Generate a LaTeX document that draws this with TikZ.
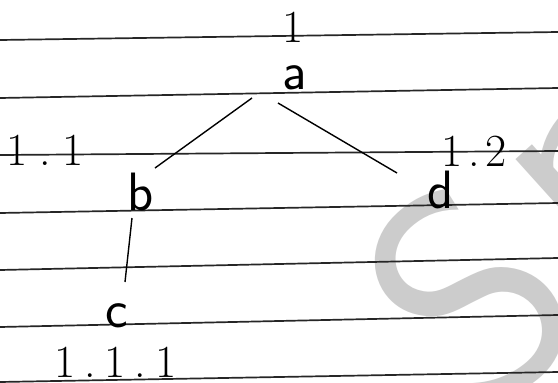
\documentclass[tikz,border=0pt]{standalone}
\usepackage{fontspec}
\newcommand{\sepdot}[1]{\kern#1.\kern#1}
\begin{document}
\begin{tikzpicture}[x=1pt,y=-1pt,
  rule/.style={draw=black!85,line width=1.7pt},
  hand/.style={font=\fontsize{54}{56}\selectfont\sffamily, inner sep=0pt},
  lab/.style={font=\fontsize{46}{48}\selectfont\rmfamily, inner sep=0pt},
  wmark/.style={text=black!20, font=\fontsize{300}{300}\selectfont\sffamily, rotate=42, inner sep=0pt},
  edge/.style={draw=black, line width=1.4pt}]
\useasboundingbox (0,0) rectangle (558,383);
\fill[white] (0,0) rectangle (558,383);
% watermark
\begin{scope}
\clip (0,0) rectangle (558,383);
\node[wmark] (wmS) at (470,295) {S};
\node[wmark] (wmP) at (615,195) {p};
\end{scope}
% ruled lines
\draw[rule] (0,40) -- (558,32);
\draw[rule] (0,98) -- (558,88);
\draw[rule] (0,155) -- (558,151);
\draw[rule] (0,213) -- (558,203);
\draw[rule] (0,270) -- (558,258);
\draw[rule] (0,327) -- (558,315);
\draw[rule] (0,382) -- (558,372);
% nodes
\node[lab] (l1) at (293,27) {1};
\node[hand] (a) at (295,78) {a};
\node[lab, anchor=west] (l11) at (6,150) {1\sepdot{12pt}1};
\node[lab, anchor=west] (l12) at (441,151) {1\sepdot{6pt}2};
\node[hand] (b) at (141,192) {b};
\node[hand] (d) at (441,190) {d};
\node[hand] (c) at (117,316) {c};
\node[lab, anchor=west] (l111) at (54,362) {1\sepdot{9pt}1\sepdot{9pt}1};
% edges
\coordinate (a1) at (252,98);
\coordinate (b1) at (155,168);
\coordinate (a2) at (278,103);
\coordinate (d1) at (397,173);
\coordinate (b2) at (132,218);
\coordinate (c1) at (125,282);
\draw[edge] (a1) -- (b1);
\draw[edge] (a2) -- (d1);
\draw[edge] (b2) -- (c1);
\end{tikzpicture}
\end{document}
